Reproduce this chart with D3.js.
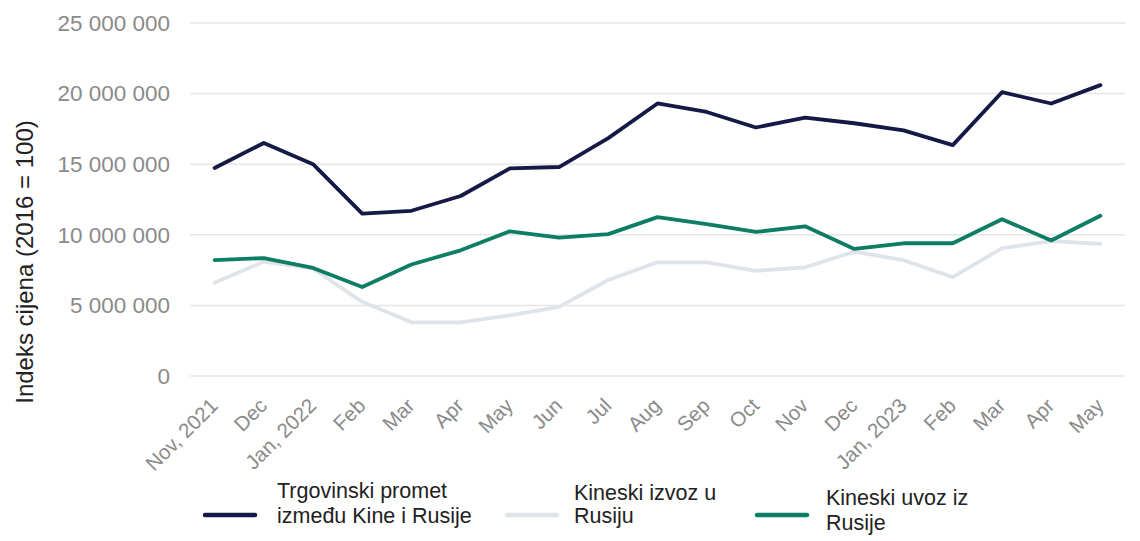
<!DOCTYPE html>
<html><head><meta charset="utf-8">
<script src="https://cdn.jsdelivr.net/npm/d3@7/dist/d3.min.js"></script>
<style>body{margin:0;background:#fff;}svg{display:block;font-family:"Liberation Sans",Arial,sans-serif;}</style>
</head><body>
<svg id="c" width="1140" height="541"></svg>
<script>
const categories = ["Nov, 2021","Dec","Jan, 2022","Feb","Mar","Apr","May","Jun","Jul","Aug","Sep","Oct","Nov","Dec","Jan, 2023","Feb","Mar","Apr","May"];
const trade   = [14730000,16500000,15000000,11500000,11700000,12750000,14700000,14800000,16850000,19300000,18700000,17600000,18300000,17900000,17400000,16350000,20100000,19300000,20600000];
const exports_ = [6600000,8100000,7600000,5250000,3800000,3800000,4300000,4900000,6800000,8050000,8050000,7450000,7700000,8800000,8200000,7000000,9050000,9550000,9350000];
const imports_ = [8200000,8350000,7650000,6300000,7900000,8900000,10250000,9800000,10050000,11250000,10750000,10200000,10600000,9000000,9400000,9400000,11100000,9600000,11350000];
const yTicks = [0,5000000,10000000,15000000,20000000,25000000];
const seriesNames = [["Trgovinski promet","između Kine i Rusije"],["Kineski izvoz u","Rusiju"],["Kineski uvoz iz","Rusije"]];
const colors = ["#141a45","#dfe4ea","#0d7d64"];

(function(){
const svg = d3.select("#c");
const pl = 190, pr = 1125, pt = 23, pb = 376;
const x = d3.scalePoint().domain(d3.range(categories.length)).range([pl,pr]).padding(0.5);
const y = d3.scaleLinear().domain([0,25000000]).range([pb,pt]);
const fmt = v => d3.format(",")(v).replace(/,/g," ");
const ff = "Liberation Sans, Arial, sans-serif";

// grid
svg.append("g").selectAll("line").data(yTicks).join("line")
  .attr("x1",pl).attr("x2",pr).attr("y1",d=>y(d)).attr("y2",d=>y(d))
  .attr("stroke","#e6e6e6").attr("stroke-width",1.5);

// y axis
const ya = svg.append("g").attr("transform",`translate(${pl},0)`)
  .call(d3.axisLeft(y).tickValues(yTicks).tickFormat(fmt).tickSize(0).tickPadding(20));
ya.select(".domain").remove();
ya.selectAll("text").attr("fill","#8a8a8a").attr("font-size",22.5).attr("font-family",ff);

// x axis
const xa = svg.append("g").attr("transform",`translate(0,${pb})`)
  .call(d3.axisBottom(x).tickFormat(i=>categories[i]).tickSize(0).tickPadding(0));
xa.select(".domain").remove();
xa.selectAll("text").attr("fill","#8a8a8a").attr("font-size",20.5).attr("font-family",ff)
  .attr("text-anchor","end").attr("dy",0)
  .attr("transform","translate(4,31) rotate(-45)");

// y title
svg.append("text").attr("transform","translate(33,262) rotate(-90)")
  .attr("text-anchor","middle").attr("font-size",24).attr("fill","#222").attr("font-family",ff)
  .text("Indeks cijena (2016 = 100)");

// lines
const line = d3.line().x((d,i)=>x(i)).y(d=>y(d));
[[exports_,colors[1]],[imports_,colors[2]],[trade,colors[0]]].forEach(([s,c])=>{
  svg.append("path").datum(s).attr("d",line).attr("fill","none")
    .attr("stroke",c).attr("stroke-width",3.8).attr("stroke-linejoin","round").attr("stroke-linecap","round");
});

// legend
const legX = [205,507,757], legTextX=[277,574,826], legTextY=[[490,515],[492,515],[497,522]];
seriesNames.forEach((n,k)=>{
  svg.append("line").attr("x1",legX[k]).attr("x2",legX[k]+50).attr("y1",515).attr("y2",515)
    .attr("stroke",colors[k]).attr("stroke-width",4.5).attr("stroke-linecap","round");
  n.forEach((t,j)=>{
    svg.append("text").attr("x",legTextX[k]).attr("y",legTextY[k][j]).attr("dy","0.35em")
      .attr("font-size",21.5).attr("fill","#222").attr("font-family",ff).text(t);
  });
});
})();
</script>
</body></html>
